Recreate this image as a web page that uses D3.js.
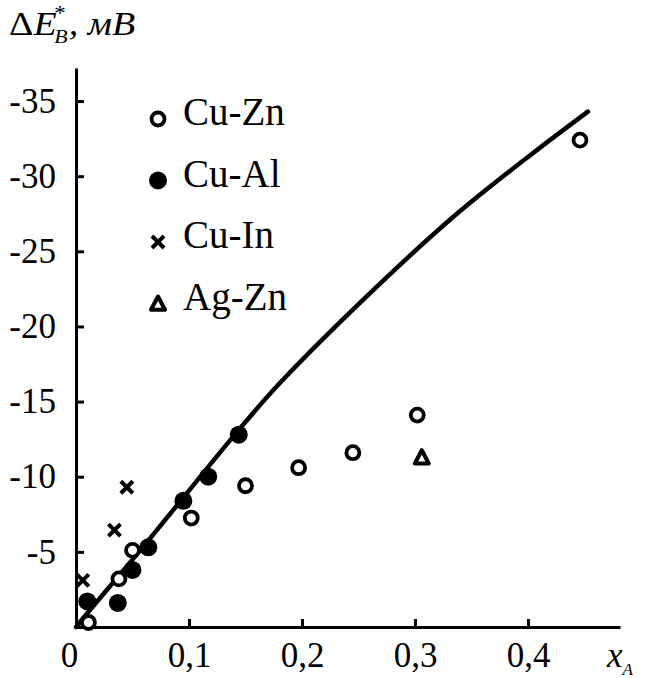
<!DOCTYPE html>
<html><head><meta charset="utf-8">
<script src="https://cdn.jsdelivr.net/npm/d3@7"></script>
<style>
html,body{margin:0;padding:0;background:#fff;}
svg{display:block;}
</style></head>
<body><svg id="c" width="646" height="678"></svg>
<script>
// ---- data ----
const seriesNames = ["Cu-Zn", "Cu-Al", "Cu-In", "Ag-Zn"];
const cuZnX = [0.011, 0.038, 0.050, 0.102, 0.150, 0.197, 0.245, 0.302, 0.446];
const cuZnY = [-0.3, -3.2, -5.1, -7.25, -9.4, -10.6, -11.6, -14.1, -32.4];
const cuAlX = [0.010, 0.037, 0.050, 0.064, 0.095, 0.117, 0.144];
const cuAlY = [-1.7, -1.6, -3.8, -5.3, -8.4, -10.0, -12.8];
const cuInX = [0.006, 0.034, 0.045];
const cuInY = [-3.1, -6.45, -9.3];
const agZnX = [0.306];
const agZnY = [-11.3];
const curveX = [0, 0.012, 0.059, 0.145, 0.18, 0.26, 0.334, 0.402, 0.453];
const curveY = [0, -1.1, -5.3, -13.2, -16.2, -22.2, -27.3, -31.4, -34.3];
const xTicks = [0, 0.1, 0.2, 0.3, 0.4];
const xTickLabels = ["0", "0,1", "0,2", "0,3", "0,4"];
const yTicks = [-5, -10, -15, -20, -25, -30, -35];
const yTickLabels = ["-5", "-10", "-15", "-20", "-25", "-30", "-35"];

const FONT = "'Liberation Serif', 'Times New Roman', Times, serif";
const svg = d3.select("#c");
const x = d3.scaleLinear().domain([0, 0.4814]).range([76, 620]);
const y = d3.scaleLinear().domain([0, -37.2]).range([627, 68]);

// axes
const xAxis = d3.axisBottom(x).tickValues(xTicks)
  .tickFormat((d, i) => xTickLabels[i]).tickSizeInner(-8).tickSizeOuter(0).tickPadding(15);
const gx = svg.append("g").attr("transform", `translate(0,${y(0)})`).call(xAxis);
const yAxis = d3.axisLeft(y).tickValues(yTicks)
  .tickFormat((d, i) => yTickLabels[i]).tickSizeInner(-8).tickSizeOuter(0).tickPadding(20);
const gy = svg.append("g").attr("transform", `translate(${x(0)},0)`).call(yAxis);
[gx, gy].forEach(g => {
  g.attr("font-family", null).attr("font-size", null);
  g.select(".domain").attr("stroke", "#000").attr("stroke-width", 3);
  g.selectAll(".tick line").attr("stroke", "#000").attr("stroke-width", 3);
  g.selectAll(".tick text").style("font-family", FONT).style("font-size", "35px").attr("fill", "#000");
});
gx.selectAll(".tick text").filter((d) => d === 0).attr("dx", -7);

// curve
const line = d3.line().x(d => x(d[0])).y(d => y(d[1])).curve(d3.curveCatmullRom);
svg.append("path").datum(curveX.map((v, i) => [v, curveY[i]]))
  .attr("d", line).attr("fill", "none").attr("stroke", "#000").attr("stroke-width", 4.5)
  .attr("stroke-linecap", "round");

// marker drawers
function openCircle(g, cx, cy) {
  g.append("circle").attr("cx", cx).attr("cy", cy).attr("r", 6.5)
    .attr("fill", "#fff").attr("stroke", "#000").attr("stroke-width", 3.8);
}
function filledCircle(g, cx, cy) {
  g.append("circle").attr("cx", cx).attr("cy", cy).attr("r", 9).attr("fill", "#000");
}
function cross(g, cx, cy) {
  const s = 6;
  g.append("path").attr("d", `M${cx - s},${cy - s}L${cx + s},${cy + s}M${cx - s},${cy + s}L${cx + s},${cy - s}`)
    .attr("stroke", "#000").attr("stroke-width", 4).attr("fill", "none");
}
function triangle(g, cx, cy) {
  const s = 7;
  g.append("path").attr("d", `M${cx},${cy - s}L${cx + s},${cy + s * 0.9}L${cx - s},${cy + s * 0.9}Z`)
    .attr("stroke", "#000").attr("stroke-width", 4).attr("fill", "#fff").attr("stroke-linejoin", "round");
}

const pts = svg.append("g");
cuAlX.forEach((v, i) => filledCircle(pts, x(v), y(cuAlY[i])));
cuZnX.forEach((v, i) => openCircle(pts, x(v), y(cuZnY[i])));
cuInX.forEach((v, i) => cross(pts, x(v), y(cuInY[i])));
agZnX.forEach((v, i) => triangle(pts, x(v), y(agZnY[i])));

// legend
const drawers = [openCircle, filledCircle, cross, triangle];
const lg = svg.append("g");
seriesNames.forEach((name, i) => {
  const my = 119 + i * 61.5;
  drawers[i](lg, 158, my);
  lg.append("text").attr("x", 183).attr("y", my + 6)
    .style("font-family", FONT).style("font-size", "39px").text(name);
});

// y title
const t = svg.append("g").attr("transform", "translate(9,35) scale(1.15,1)")
  .append("text").attr("x", 0).attr("y", 0)
  .style("font-family", FONT).style("font-size", "33px");
t.append("tspan").text("Δ");
t.append("tspan").style("font-style", "italic").text("E");
t.append("tspan").attr("dx", -2).attr("dy", -15).style("font-size", "20px").text("*");
t.append("tspan").attr("dx", -10).attr("dy", 23).style("font-size", "19px").style("font-style", "italic").text("B");
t.append("tspan").attr("dx", 1).attr("dy", -8).style("font-style", "italic").text(", мВ");

// x title
const xt = svg.append("text").attr("x", 607).attr("y", 667)
  .style("font-family", FONT).style("font-size", "35px").style("font-style", "italic");
xt.append("tspan").text("x");
xt.append("tspan").attr("dy", 8).style("font-size", "17px").text("A");
</script></body></html>
